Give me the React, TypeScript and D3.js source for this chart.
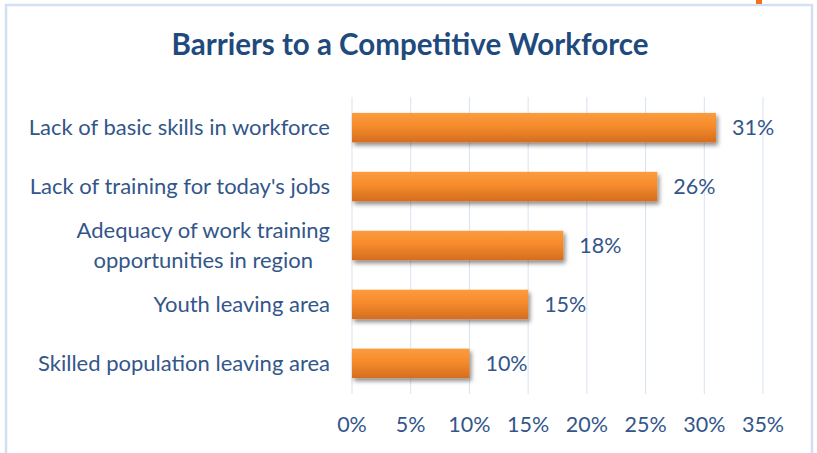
import React, { useEffect, useRef } from "react";
import * as d3 from "d3";

const categories: string[][] = [
  ["Lack of basic skills in workforce"],
  ["Lack of training for today's jobs"],
  ["Adequacy of work training", "opportunities in region"],
  ["Youth leaving area"],
  ["Skilled population leaving area"],
];
const values: number[] = [0.31, 0.26, 0.18, 0.15, 0.1];
const ticks: number[] = [0, 0.05, 0.1, 0.15, 0.2, 0.25, 0.3, 0.35];
const title = "Barriers to a Competitive Workforce";

const W = 817;
const H = 453;
const FONT = "Lato, 'Open Sans', sans-serif";
const TEXT = "#33568a";
const FS = 21.5;
const FS_CAT = 22;

export default function App() {
  const ref = useRef<SVGSVGElement | null>(null);
  useEffect(() => {
    const svg = d3.select(ref.current);
    svg.selectAll("*").remove();

    const defs = svg.append("defs");
    const grad = defs
      .append("linearGradient")
      .attr("id", "barGrad")
      .attr("x1", 0)
      .attr("y1", 0)
      .attr("x2", 0)
      .attr("y2", 1);
    grad.append("stop").attr("offset", "0%").attr("stop-color", "#fb9c3e");
    grad.append("stop").attr("offset", "45%").attr("stop-color", "#f68b2c");
    grad.append("stop").attr("offset", "100%").attr("stop-color", "#d46d1f");
    const f = defs
      .append("filter")
      .attr("id", "shadow")
      .attr("x", "-10%")
      .attr("y", "-30%")
      .attr("width", "130%")
      .attr("height", "180%");
    f.append("feDropShadow")
      .attr("dx", 2)
      .attr("dy", 3)
      .attr("stdDeviation", 2)
      .attr("flood-color", "#000")
      .attr("flood-opacity", 0.45);

    svg.append("rect").attr("width", W).attr("height", H).attr("fill", "#fff");
    // frame
    svg
      .append("rect")
      .attr("x", 6)
      .attr("y", 5)
      .attr("width", 806)
      .attr("height", 470)
      .attr("fill", "#fff")
      .attr("stroke", "#d3e0f2")
      .attr("stroke-width", 2.5);
    svg
      .append("rect")
      .attr("x", 756)
      .attr("y", 0)
      .attr("width", 6)
      .attr("height", 4)
      .attr("fill", "#f3701c");

    const x = d3.scaleLinear().domain([0, 0.35]).range([352, 763]);
    const y = d3
      .scaleBand<number>()
      .domain(d3.range(categories.length))
      .range([97, 394])
      .paddingInner(0.5)
      .paddingOuter(0.27);

    // title
    svg
      .append("text")
      .attr("x", 410)
      .attr("y", 55)
      .attr("text-anchor", "middle")
      .attr("font-family", FONT)
      .attr("font-weight", "bold")
      .attr("font-size", 29.5)
      .attr("fill", "#1f4a7e")
      .text(title);

    // gridlines
    svg
      .append("g")
      .selectAll("line")
      .data(ticks)
      .join("line")
      .attr("x1", (d) => x(d))
      .attr("x2", (d) => x(d))
      .attr("y1", 97)
      .attr("y2", 394)
      .attr("stroke", "#d7e3f3")
      .attr("stroke-width", 1);

    // tick labels
    svg
      .append("g")
      .selectAll("text")
      .data(ticks)
      .join("text")
      .attr("x", (d) => x(d))
      .attr("y", 432)
      .attr("text-anchor", "middle")
      .attr("font-family", FONT)
      .attr("font-size", FS)
      .attr("fill", TEXT)
      .text((d) => d3.format(".0%")(d));

    // bars
    svg
      .append("g")
      .selectAll("rect")
      .data(values)
      .join("rect")
      .attr("x", x(0))
      .attr("y", (_, i) => y(i)!)
      .attr("width", (d) => x(d) - x(0))
      .attr("height", y.bandwidth())
      .attr("fill", "url(#barGrad)")
      .attr("filter", "url(#shadow)");

    // value labels
    svg
      .append("g")
      .selectAll("text")
      .data(values)
      .join("text")
      .attr("x", (d) => x(d) + 16)
      .attr("y", (_, i) => y(i)! + y.bandwidth() / 2 + 7.5)
      .attr("font-family", FONT)
      .attr("font-size", FS)
      .attr("fill", TEXT)
      .text((d) => d3.format(".0%")(d));

    // category labels
    const lineH = 30;
    categories.forEach((lines, i) => {
      const cy = y(i)! + y.bandwidth() / 2;
      const g = svg.append("g");
      const texts = lines.map((l, j) =>
        g
          .append("text")
          .attr("y", cy + 7.5 + (j - (lines.length - 1) / 2) * lineH)
          .attr("font-family", FONT)
          .attr("font-size", FS_CAT)
          .attr("fill", TEXT)
          .text(l)
      );
      const widths = texts.map((t) => (t.node() as SVGTextElement).getComputedTextLength());
      const maxW = d3.max(widths) || 0;
      const center = 330 - maxW / 2;
      texts.forEach((t) => t.attr("x", center).attr("text-anchor", "middle"));
    });
  }, []);
  return (
    <svg
      ref={ref}
      width={W}
      height={H}
      style={{ position: "absolute", left: 0, top: 0, display: "block" }}
    />
  );
}
